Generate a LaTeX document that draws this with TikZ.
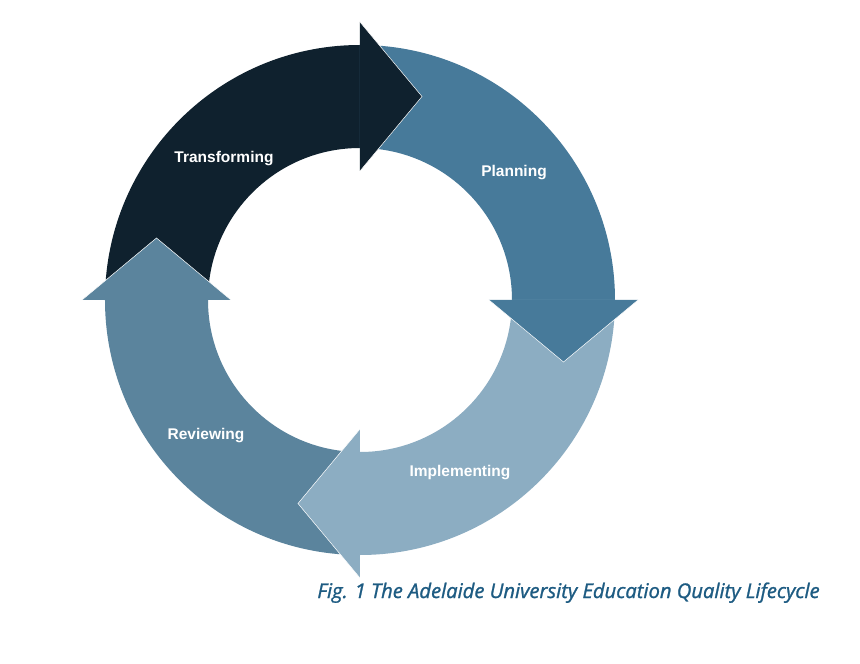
\documentclass[tikz,border=0pt]{standalone}
\usepackage{fontspec}
\setmainfont{Liberation Sans}
\newfontfamily\capfont[ItalicFeatures={FakeBold=1.2}]{Open Sans}
\usetikzlibrary{calc}
\definecolor{cTrans}{HTML}{0F212E}
\definecolor{cPlan}{HTML}{477A9A}
\definecolor{cImpl}{HTML}{8CADC2}
\definecolor{cRev}{HTML}{5B849D}
\definecolor{cCap}{HTML}{1D5B82}
\tikzset{
  lbl/.style={text=white,font=\fontsize{15.5}{18}\selectfont\bfseries,inner sep=0pt},
  edge/.style={draw=white,line width=0.5pt,line join=miter}
}
\newcommand{\ringbody}[3]{% start angle, end angle, colour
  \fill[#3] (#1:255) arc[start angle=#1,end angle=#2,radius=255] -- (#2:152) arc[start angle=#2,end angle=#1,radius=152] -- cycle;}
\newcommand{\ringhead}[3]{% angle, colour, name
  \coordinate (#3a) at (#1:278);
  \coordinate (#3b) at (#1:129);
  \coordinate (#3t) at ($(#1:203.5)+(#1-90:62)$);
  \fill[#2] (#3a) -- (#3t) -- (#3b) -- cycle;
  \draw[edge] (#3a) -- (#3t) -- (#3b);}
\begin{document}
\begin{tikzpicture}[x=1pt,y=1pt]
\useasboundingbox (-360,-364) rectangle (500,300);
\fill[white] (-360,-364) rectangle (500,300);
% bodies
\ringbody{180}{90}{cTrans}
\ringbody{90}{0}{cPlan}
\ringbody{0}{-90}{cImpl}
\ringbody{-90}{-180}{cRev}
% heads
\ringhead{90}{cTrans}{ht}
\ringhead{0}{cPlan}{hp}
\ringhead{-90}{cImpl}{hi}
\ringhead{180}{cRev}{hr}
% labels
\node[lbl] (transforming) at (-136,141) {Transforming};
\node[lbl] (planning) at (154,127) {Planning};
\node[lbl] (implementing) at (100,-173) {Implementing};
\node[lbl] (reviewing) at (-154,-136) {Reviewing};
\node[anchor=base east,inner sep=0pt,text=cCap,font=\capfont\itshape\fontsize{20.2}{24}\selectfont] (caption) at (460,-298) {Fig. 1 The Adelaide University Education Quality Lifecycle};
\end{tikzpicture}
\end{document}
